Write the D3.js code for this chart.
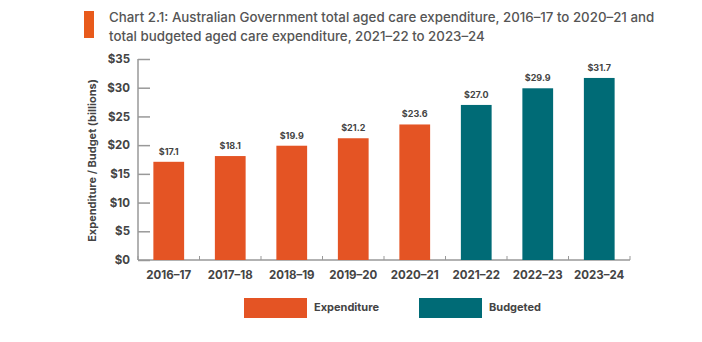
<!DOCTYPE html>
<html>
<head>
<meta charset="utf-8">
<script src="https://cdn.jsdelivr.net/npm/d3@7"></script>
<style>
  body { margin: 0; background: #fff; }
  text { font-family: Inter, "Open Sans", sans-serif; }
</style>
</head>
<body>
<div id="plot"></div>
<script>
const width = 702
const height = 342
const margin = {top: 59, right: 72, bottom: 82, left: 138}

// chart data
const years = ['2016–17', '2017–18', '2018–19', '2019–20', '2020–21', '2021–22', '2022–23', '2023–24']
const values = [17.1, 18.1, 19.9, 21.2, 23.6, 27.0, 29.9, 31.7]
const kinds = ['Expenditure', 'Expenditure', 'Expenditure', 'Expenditure', 'Expenditure', 'Budgeted', 'Budgeted', 'Budgeted']
const yTicks = [0, 5, 10, 15, 20, 25, 30, 35]
const legendLabels = ['Expenditure', 'Budgeted']

const colors = {Expenditure: '#e45424', Budgeted: '#006b76'}

const svg = d3.select('div#plot').append('svg')
    .attr('width', width)
    .attr('height', height)
    .attr('viewBox', [0, 0, width, height])

// title block
svg.append('rect')
    .attr('x', 84).attr('y', 11)
    .attr('width', 10).attr('height', 27)
    .attr('fill', '#e85a1b')

const title = svg.append('text')
    .attr('x', 109)
    .attr('fill', '#555')
    .attr('font-size', 13.3)
    .attr('font-weight', 500)
title.append('tspan').attr('x', 109).attr('y', 22)
    .text('Chart 2.1: Australian Government total aged care expenditure, 2016–17 to 2020–21 and')
title.append('tspan').attr('x', 109).attr('y', 41)
    .text('total budgeted aged care expenditure, 2021–22 to 2023–24')

const x = d3.scaleBand()
    .domain(years)
    .range([margin.left, width - margin.right])
    .paddingInner(0.5)
    .paddingOuter(0.25)

const y = d3.scaleLinear()
    .domain([0, 35])
    .range([height - margin.bottom, margin.top])

// y axis
svg.append('g')
    .attr('transform', 'translate(' + margin.left + ',0)')
    .call(d3.axisRight(y).tickValues(yTicks).tickSize(12).tickFormat(v => '$' + v))
    .call(g => g.select('.domain').attr('d', 'M0,' + y(35) + 'V' + y(0)))
    .call(g => g.selectAll('line, path').attr('stroke', '#999').attr('stroke-width', 1.5))
    .call(g => g.selectAll('text')
        .attr('x', -8)
        .attr('text-anchor', 'end')
        .attr('fill', '#444')
        .attr('font-size', 11.5)
        .attr('font-weight', 700))

// x axis baseline with small ticks between bands
const xAxis = svg.append('g')
xAxis.append('line')
    .attr('x1', margin.left).attr('x2', width - margin.right)
    .attr('y1', y(0)).attr('y2', y(0))
    .attr('stroke', '#999').attr('stroke-width', 1.5)
const step = x.step()
xAxis.selectAll('.sep')
    .data(d3.range(years.length + 1))
    .enter()
    .append('line')
    .attr('x1', i => margin.left + i * step)
    .attr('x2', i => margin.left + i * step)
    .attr('y1', y(0))
    .attr('y2', y(0) - 4)
    .attr('stroke', '#999').attr('stroke-width', 1)
xAxis.selectAll('.lab')
    .data(years)
    .enter()
    .append('text')
    .attr('x', d => x(d) + x.bandwidth() / 2)
    .attr('y', y(0) + 16)
    .attr('text-anchor', 'middle')
    .attr('dominant-baseline', 'middle')
    .attr('fill', '#444')
    .attr('font-size', 11.5)
    .attr('font-weight', 700)
    .text(d => d)

// y axis title
svg.append('text')
    .attr('transform', 'translate(96,' + ((y(0) + y(35)) / 2 + 1) + ') rotate(-90)')
    .attr('text-anchor', 'middle')
    .attr('fill', '#444')
    .attr('font-size', 11)
    .attr('font-weight', 700)
    .text('Expenditure / Budget (billions)')

// bars
const bars = svg.append('g')
    .selectAll('g')
    .data(years)
    .enter()
    .append('g')

bars.append('rect')
    .attr('x', d => x(d))
    .attr('width', x.bandwidth())
    .attr('y', (d, i) => y(values[i]))
    .attr('height', (d, i) => y(0) - y(values[i]))
    .attr('fill', (d, i) => colors[kinds[i]])

bars.append('text')
    .attr('x', d => x(d) + x.bandwidth() / 2)
    .attr('y', (d, i) => y(values[i]) - 7)
    .attr('text-anchor', 'middle')
    .attr('fill', '#444')
    .attr('font-size', 9)
    .attr('font-weight', 700)
    .text((d, i) => '$' + values[i].toFixed(1))

// legend
const legend = svg.append('g')
    .selectAll('g')
    .data(legendLabels)
    .enter()
    .append('g')
    .attr('transform', (d, i) => 'translate(' + (244 + i * 175) + ',298)')

legend.append('rect')
    .attr('width', 63)
    .attr('height', 20)
    .attr('fill', d => colors[d])

legend.append('text')
    .attr('x', 70)
    .attr('y', 10)
    .attr('dominant-baseline', 'middle')
    .attr('fill', '#444')
    .attr('font-size', 11)
    .attr('font-weight', 700)
    .text(d => d)
</script>
</body>
</html>
